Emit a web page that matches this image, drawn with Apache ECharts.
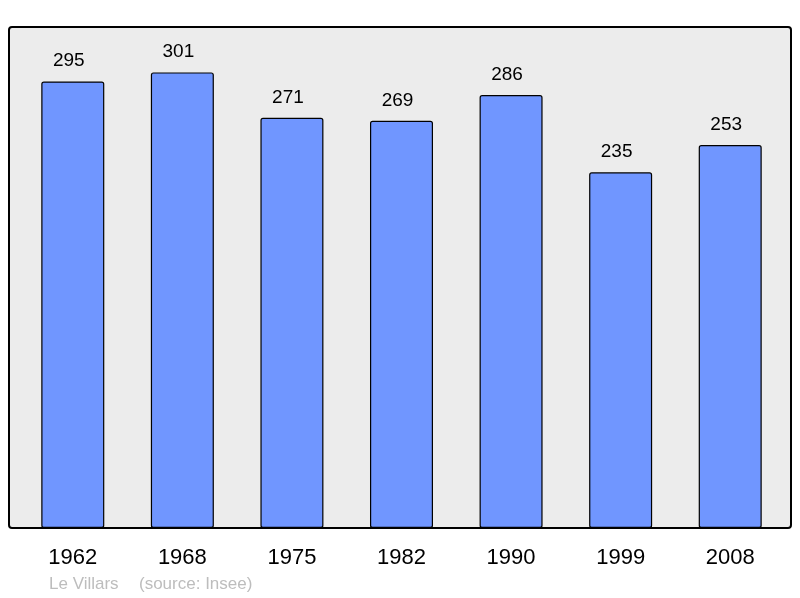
<!DOCTYPE html>
<html>
<head>
<meta charset="utf-8">
<script src="https://cdn.jsdelivr.net/npm/echarts@6/dist/echarts.min.js"></script>
<style>
  html, body { margin: 0; padding: 0; background: #fff; }
  #main { width: 800px; height: 598px; }
</style>
</head>
<body>
<div id="main"></div>
<script>
// données de population
var years = ['1962', '1968', '1975', '1982', '1990', '1999', '2008'];
var population = [295, 301, 271, 269, 286, 235, 253];
var footer = ['Le Villars', '(source: Insee)'];

var chart = echarts.init(document.getElementById('main'));

var option = {
  animation: false,
  textStyle: { fontFamily: 'Liberation Sans, Arial, sans-serif' },
  graphic: [
    {
      type: 'rect',
      z: -10,
      shape: { x: 9, y: 27, width: 782, height: 501, r: 3 },
      style: { fill: '#ececec', stroke: '#000', lineWidth: 2 }
    },
    {
      type: 'text',
      left: 49, top: 576,
      style: { text: footer[0], fill: '#bdbdbd', fontSize: 17, fontFamily: 'Liberation Sans, Arial, sans-serif' }
    },
    {
      type: 'text',
      left: 139, top: 576,
      style: { text: footer[1], fill: '#bdbdbd', fontSize: 17, fontFamily: 'Liberation Sans, Arial, sans-serif' }
    }
  ],
  grid: { left: 18, right: 15, top: 27, bottom: 70 },
  xAxis: {
    type: 'category',
    data: years,
    axisLine: { show: false },
    axisTick: { show: false },
    axisLabel: { color: '#000', fontSize: 22, margin: 19 }
  },
  yAxis: {
    type: 'value',
    min: 0,
    max: 331,
    show: false,
    splitLine: { show: false }
  },
  series: [{
    type: 'bar',
    data: population,
    barWidth: '57.5%',
    itemStyle: { color: '#7096ff', borderColor: '#000', borderWidth: 1.2, borderRadius: 2 },
    label: { show: true, position: 'top', distance: 11, offset: [-4, 0], color: '#000', fontSize: 19 }
  }]
};

chart.setOption(option);
</script>
</body>
</html>
